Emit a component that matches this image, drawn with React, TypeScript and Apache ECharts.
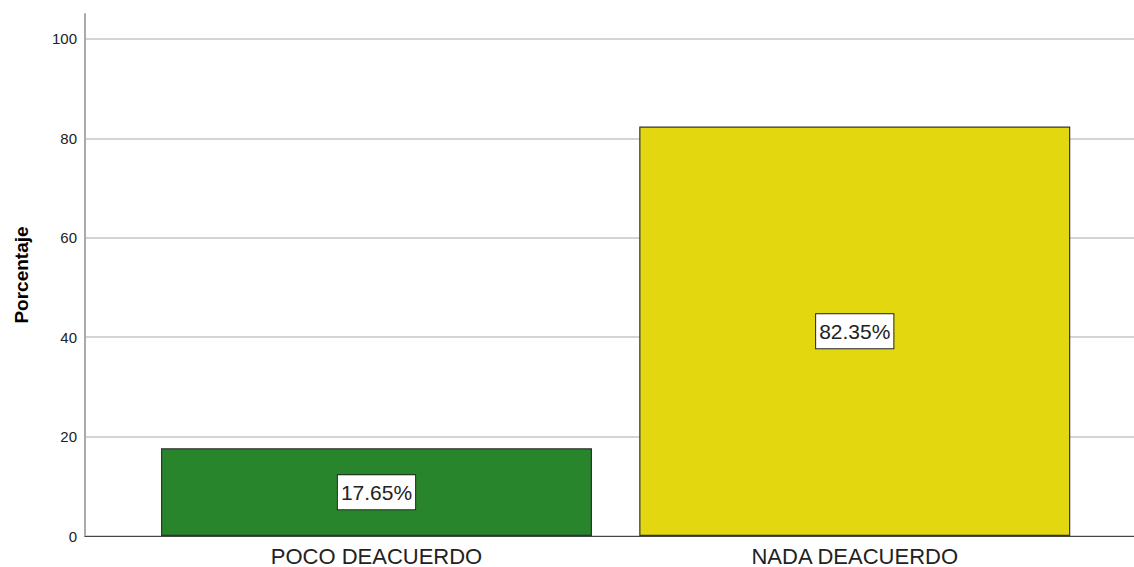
import React, { useEffect, useRef } from "react";
import * as echarts from "echarts";

const categories = ["POCO DEACUERDO", "NADA DEACUERDO"];
const positions = [1, 2];
const percentages = [17.65, 82.35];
const yTicks = [0, 20, 40, 60, 80, 100];
const barColors = ["#29852b", "#e3d70f"];

export default function App() {
  const ref = useRef<HTMLDivElement>(null);
  useEffect(() => {
    if (!ref.current) return;
    const chart = echarts.init(ref.current, undefined, { renderer: "svg" });
    const font = "'Liberation Sans', Arial, sans-serif";
    chart.setOption({
      animation: false,
      grid: { left: 85, right: 0, top: 14, bottom: 31, containLabel: false },
      xAxis: {
        type: "value",
        min: 0.3905,
        max: 2.5839,
        splitLine: { show: false },
        axisTick: { show: false },
        axisLine: { show: true, onZero: false, lineStyle: { color: "#444", width: 1 } },
        axisLabel: {
          customValues: positions,
          formatter: (v: number) => categories[positions.indexOf(v)] ?? "",
          fontSize: 22,
          color: "#222",
          fontFamily: font,
          margin: 9,
        },
      },
      yAxis: {
        type: "value",
        min: 0,
        max: 105,
        interval: 20,
        name: "Porcentaje",
        nameLocation: "middle",
        nameGap: 54,
        nameTextStyle: { fontSize: 19, fontWeight: "bold", color: "#000", fontFamily: font },
        axisLine: { show: true, lineStyle: { color: "#aaa", width: 2 } },
        axisTick: { show: false },
        axisLabel: {
          customValues: yTicks,
          fontSize: 15,
          color: "#222",
          fontFamily: font,
          margin: 8,
        },
        splitLine: { show: true, showMaxLine: false, lineStyle: { color: "#d4d4d4", width: 2 } },
      },
      series: [
        {
          type: "bar",
          barWidth: 431,
          data: percentages.map((v, i) => ({
            value: [positions[i], v],
            itemStyle: { color: barColors[i], borderColor: "#333", borderWidth: 1.2 },
          })),
          label: {
            show: true,
            position: "inside",
            formatter: (p: any) => p.value[1].toFixed(2) + "%",
            fontSize: 21,
            color: "#222",
            fontFamily: font,
            backgroundColor: "#fff",
            borderColor: "#222",
            borderWidth: 1,
            padding: [8, 3, 5, 3],
          },
        },
      ],
    });
    return () => chart.dispose();
  }, []);
  return (
    <div
      ref={ref}
      style={{ position: "absolute", left: 0, top: 0, width: 1134, height: 567 }}
    />
  );
}
